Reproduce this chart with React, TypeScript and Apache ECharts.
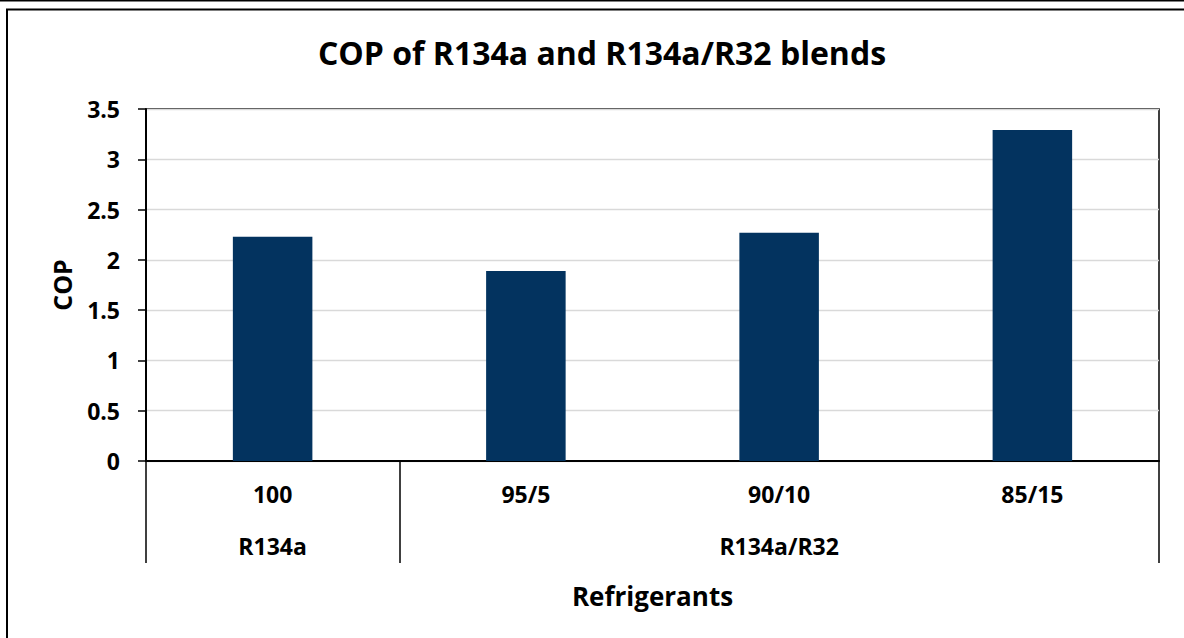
import React, { useEffect, useRef } from "react";
import * as echarts from "echarts";

const categories = ["100", "95/5", "90/10", "85/15"];
const groups = ["R134a", "", "R134a/R32", ""];
const copValues = [2.23, 1.89, 2.27, 3.29];
const yMin = 0;
const yMax = 3.5;
const yStep = 0.5;

const FONT = "'Open Sans', Lato, sans-serif";

export default function App() {
  const ref = useRef<HTMLDivElement>(null);
  useEffect(() => {
    const chart = echarts.init(ref.current!, null, { renderer: "svg" });
    const labelStyle = { fontSize: 23, fontWeight: "bold", color: "#000", fontFamily: FONT };
    chart.setOption({
      animation: false,
      textStyle: { fontFamily: FONT },
      title: {
        text: "COP of R134a and R134a/R32 blends",
        left: 597,
        top: 31,
        textAlign: "center",
        textStyle: { fontSize: 32, fontWeight: "bold", color: "#000", fontFamily: FONT },
      },
      grid: {
        left: 146,
        right: 1184 - 1159,
        top: 109,
        bottom: 638 - 461,
        show: true,
        borderColor: "#000",
        borderWidth: 1.5,
        backgroundColor: "transparent",
      },
      xAxis: [
        {
          type: "category",
          data: categories,
          position: "bottom",
          axisLine: { show: true, lineStyle: { color: "#000", width: 2 } },
          axisTick: {
            show: true,
            length: 102,
            interval: (i: number) => i === 0 || i === 1,
            lineStyle: { color: "#000", width: 1.5 },
          },
          axisLabel: { ...labelStyle, interval: 0, margin: 21 },
          splitLine: { show: false },
          name: "Refrigerants",
          nameLocation: "middle",
          nameGap: 122,
          nameTextStyle: { fontSize: 26, fontWeight: "bold", color: "#000", fontFamily: FONT },
        },
        {
          type: "category",
          data: groups,
          position: "bottom",
          axisLine: { show: false },
          axisTick: { show: false },
          axisLabel: { ...labelStyle, interval: 0, margin: 73 },
          splitLine: { show: false },
        },
      ],
      yAxis: {
        type: "value",
        min: yMin,
        max: yMax,
        interval: yStep,
        axisLine: { show: true, lineStyle: { color: "#000", width: 2 } },
        axisTick: { show: true, length: 8, inside: false, lineStyle: { color: "#000", width: 1.5 } },
        axisLabel: { ...labelStyle, margin: 26 },
        splitLine: { show: true, lineStyle: { color: "#d9d9d9", width: 1.3 } },
        name: "COP",
        nameLocation: "middle",
        nameGap: 72,
        nameTextStyle: { fontSize: 25, fontWeight: "bold", color: "#000", fontFamily: FONT },
      },
      series: [
        {
          type: "bar",
          xAxisIndex: 0,
          data: copValues,
          barWidth: "31.4%",
          itemStyle: { color: "#03335F" },
        },
      ],
      graphic: [
        { type: "rect", shape: { x: 0, y: 0, width: 1184, height: 1.5 }, style: { fill: "#000" } },
        {
          type: "polyline",
          shape: { points: [[7, 640], [7, 9.5], [1186, 9.5]] },
          style: { stroke: "#000", lineWidth: 2, fill: null },
        },
      ],
    });
    return () => chart.dispose();
  }, []);
  return (
    <div
      ref={ref}
      style={{ position: "fixed", left: 0, top: 0, width: 1184, height: 638, background: "#fff" }}
    />
  );
}
